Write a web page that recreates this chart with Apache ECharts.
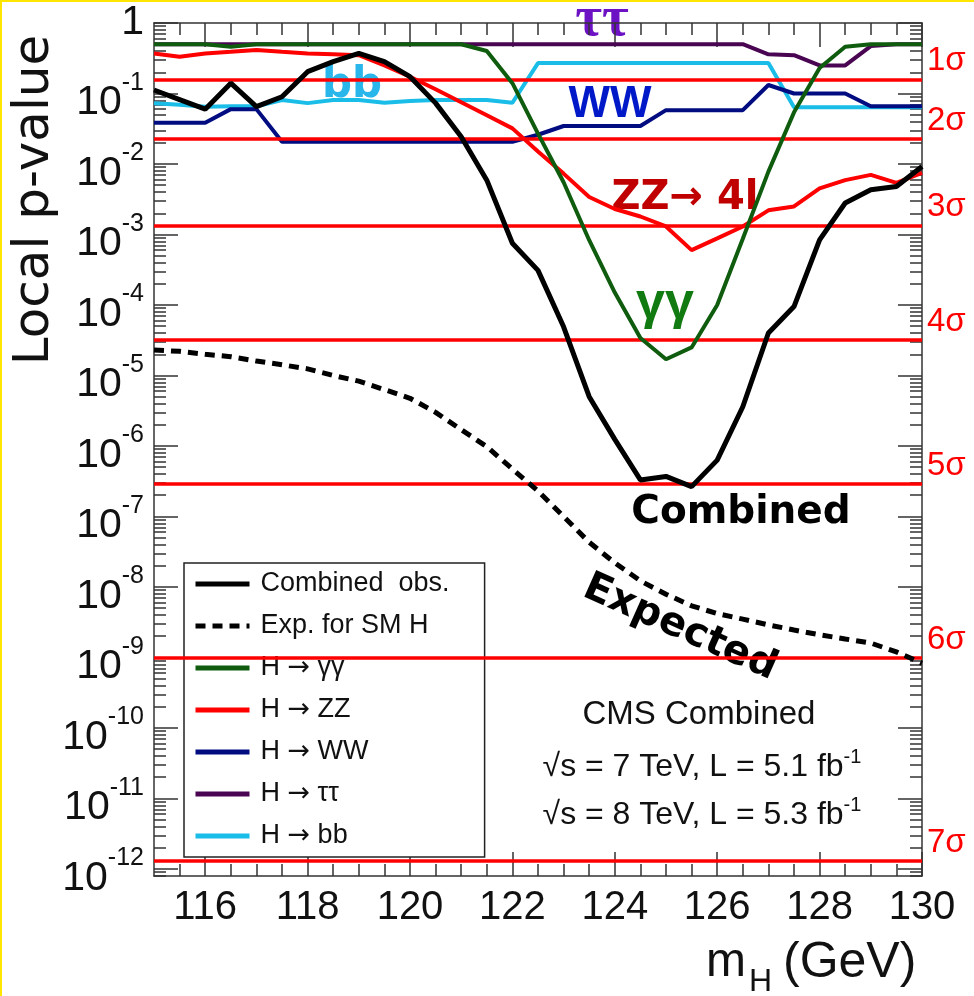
<!DOCTYPE html>
<html>
<head>
<meta charset="utf-8">
<script src="https://cdn.jsdelivr.net/npm/echarts@6/dist/echarts.min.js"></script>
<style>
  html, body { margin: 0; padding: 0; background: #fff; }
  #chart { width: 974px; height: 996px; }
  #edge { position: absolute; left: 0; top: 0; width: 972px; height: 994px;
          border-top: 2px solid #ffe600; border-left: 2px solid #ffe600; pointer-events: none; }
</style>
</head>
<body>
<div id="chart"></div>
<div id="edge"></div>
<script>
// mass points (GeV)
var masses = [115, 115.5, 116, 116.5, 117, 117.5, 118, 118.5, 119, 119.5, 120, 120.5, 121, 121.5, 122, 122.5,
  123, 123.5, 124, 124.5, 125, 125.5, 126, 126.5, 127, 127.5, 128, 128.5, 129, 129.5, 130];

// local p-values
var combinedObs = [0.112, 0.082, 0.060, 0.14, 0.065, 0.090, 0.204, 0.283, 0.372, 0.283, 0.173, 0.073, 0.0244, 0.0059, 7.5e-4, 3.1e-4,
  4.9e-5, 5.0e-6, 1.24e-6, 3.3e-7, 3.7e-7, 2.65e-7, 6.3e-7, 3.6e-6, 4.0e-5, 9.5e-5, 8.4e-4, 2.8e-3, 4.3e-3, 4.8e-3, 9.2e-3];
var expectedSM = [2.3e-5, 2.2e-5, 2.0e-5, 1.85e-5, 1.6e-5, 1.42e-5, 1.24e-5, 1.0e-5, 8.3e-6, 6.3e-6, 4.75e-6, 3.0e-6, 1.7e-6, 9.8e-7, 4.7e-7, 2.3e-7,
  1.0e-7, 4.3e-8, 2.2e-8, 1.22e-8, 7.9e-9, 5.4e-9, 4.2e-9, 3.5e-9, 2.9e-9, 2.45e-9, 2.1e-9, 1.83e-9, 1.6e-9, 1.2e-9, 8.3e-10];
var gammaGamma = [0.5, 0.5, 0.5, 0.46, 0.5, 0.5, 0.5, 0.5, 0.5, 0.5, 0.5, 0.5, 0.5, 0.40, 0.14, 0.027,
  0.0055, 8.3e-4, 1.5e-4, 3.4e-5, 1.7e-5, 2.5e-5, 1.0e-4, 8.7e-4, 7.8e-3, 0.054, 0.23, 0.46, 0.5, 0.5, 0.5];
var zzTo4l = [0.37, 0.333, 0.37, 0.39, 0.414, 0.39, 0.37, 0.36, 0.35, 0.25, 0.173, 0.115, 0.075, 0.049, 0.032, 0.015,
  0.0073, 0.0034, 0.0023, 0.0018, 0.0013, 0.0006, 0.00088, 0.0013, 0.0022, 0.0025, 0.0045, 0.0059, 0.0070, 0.0054, 0.0075];
var wwChan = [0.0385, 0.0385, 0.0385, 0.060, 0.060, 0.0207, 0.0207, 0.0207, 0.0207, 0.0207, 0.0207, 0.0207, 0.0207, 0.0207, 0.0207, 0.026,
  0.0346, 0.0346, 0.0346, 0.0346, 0.058, 0.058, 0.058, 0.058, 0.132, 0.10, 0.10, 0.10, 0.066, 0.066, 0.066];
var tauTau = [0.5, 0.5, 0.5, 0.5, 0.5, 0.5, 0.5, 0.5, 0.5, 0.5, 0.5, 0.5, 0.5, 0.5, 0.5, 0.5,
  0.5, 0.5, 0.5, 0.5, 0.5, 0.5, 0.5, 0.5, 0.36, 0.35, 0.25, 0.25, 0.47, 0.5, 0.5];
var bbChan = [0.073, 0.069, 0.065, 0.066, 0.066, 0.081, 0.073, 0.081, 0.081, 0.074, 0.078, 0.081, 0.081, 0.081, 0.074, 0.27,
  0.27, 0.27, 0.27, 0.27, 0.27, 0.27, 0.27, 0.27, 0.27, 0.064, 0.064, 0.064, 0.064, 0.064, 0.064];

// significance reference lines
var sigmaP = [0.1587, 0.02275, 1.350e-3, 3.167e-5, 2.867e-7, 9.866e-10, 1.280e-12];
var sigmaNames = ['1σ', '2σ', '3σ', '4σ', '5σ', '6σ', '7σ'];

// ticks
var xMajor = [116, 118, 120, 122, 124, 126, 128, 130];
var xMinor = [115.5, 116, 116.5, 117, 117.5, 118, 118.5, 119, 119.5, 120, 120.5, 121, 121.5, 122, 122.5,
  123, 123.5, 124, 124.5, 125, 125.5, 126, 126.5, 127, 127.5, 128, 128.5, 129, 129.5];
var yMajorExp = [-12, -11, -10, -9, -8, -7, -6, -5, -4, -3, -2, -1, 0];
var Y_MIN = -12.1;

var yMinor = [];
yMajorExp.forEach(function (e) {
  for (var k = 2; k <= 9; k++) {
    var v = e - 1 + Math.log10(k);
    if (v >= Y_MIN) yMinor.push(v);
  }
});
var sigmaLog = sigmaP.map(function (p) { return Math.log10(p); });

function toLog(arr) {
  return masses.map(function (m, i) { return [m, Math.log10(arr[i])]; });
}

var SANS = '"Liberation Sans", Arial, sans-serif';
var axisCol = '#333';

function xAx(pos, ticks, len, showLine, showLabel) {
  return {
    type: 'value', min: 115, max: 130, position: pos,
    axisLine: { show: showLine, onZero: false, lineStyle: { color: axisCol, width: 1.5 } },
    axisTick: { show: true, inside: true, length: len, customValues: ticks, lineStyle: { color: axisCol, width: 1.5 } },
    axisLabel: showLabel ? {
      customValues: xMajor, fontSize: 40, fontFamily: SANS, color: '#111', margin: 12
    } : { show: false },
    splitLine: { show: false }
  };
}

function yAx(pos, ticks, len, showLine, showLabel) {
  return {
    type: 'value', min: Y_MIN, max: 0, position: pos,
    axisLine: { show: showLine, onZero: false, lineStyle: { color: axisCol, width: 1.5 } },
    axisTick: { show: true, inside: true, length: len, customValues: ticks, lineStyle: { color: axisCol, width: 1.5 } },
    axisLabel: showLabel ? {
      customValues: yMajorExp, margin: 10,
      formatter: function (v) {
        if (v === 0) return '{one|1}';
        return '{b|10}{s|' + v + '}';
      },
      rich: {
        one: { fontSize: 41, fontFamily: SANS, color: '#111', lineHeight: 44 },
        b: { fontSize: 41, fontFamily: SANS, color: '#111', lineHeight: 60, verticalAlign: 'bottom' },
        s: { fontSize: 25, fontFamily: SANS, color: '#111', lineHeight: 26, verticalAlign: 'top', padding: [7, 0, 0, 0] }
      }
    } : { show: false },
    splitLine: { show: false }
  };
}

// right-hand axis carrying only the sigma labels
var sigmaAxis = {
  type: 'value', min: Y_MIN, max: 0, position: 'right',
  axisLine: { show: false }, axisTick: { show: false }, splitLine: { show: false },
  axisLabel: {
    customValues: sigmaLog, margin: 5, color: '#ff0000', fontSize: 33, fontFamily: SANS,
    verticalAlign: 'bottom', lineHeight: 36,
    formatter: function (v) {
      var best = 0;
      sigmaLog.forEach(function (s, i) { if (Math.abs(s - v) < Math.abs(sigmaLog[best] - v)) best = i; });
      return sigmaNames[best];
    }
  }
};

var chart = echarts.init(document.getElementById('chart'), null, { renderer: 'canvas' });

var lineSeries = function (name, data, color, width, z, dashed) {
  return {
    type: 'line', name: name, data: toLog(data), symbol: 'none', z: z,
    xAxisIndex: 0, yAxisIndex: 0,
    lineStyle: { color: color, width: width, type: dashed ? [10, 7] : 'solid' },
    itemStyle: { color: color },
    emphasis: { disabled: true }
  };
};

chart.setOption({
  animation: false,
  grid: { left: 154, right: 52, top: 23, bottom: 120, outerBoundsMode: 'none' },
  xAxis: [
    xAx('bottom', xMajor, 24, true, true),
    xAx('bottom', xMinor, 12, false, false),
    xAx('top', xMajor, 24, true, false),
    xAx('top', xMinor, 12, false, false)
  ],
  yAxis: [
    yAx('left', yMajorExp, 24, true, true),
    yAx('left', yMinor, 12, false, false),
    yAx('right', yMajorExp, 24, true, false),
    yAx('right', yMinor, 12, false, false),
    sigmaAxis
  ],
  legend: {
    left: 184, top: 563, orient: 'vertical',
    itemWidth: 54, itemHeight: 20, itemGap: 14,
    padding: [7, 35, 7, 9],
    borderColor: '#222', borderWidth: 1.5, backgroundColor: '#fff',
    itemStyle: { color: 'rgba(0,0,0,0)', borderWidth: 0, opacity: 0 },
    lineStyle: { width: 5 },
    formatter: function (name) { return name.replace('→', '{a|→}'); },
    textStyle: {
      fontSize: 27, fontFamily: SANS, color: '#111', lineHeight: 28, padding: [0, 0, 0, 6],
      rich: { a: { fontSize: 27, fontFamily: '"DejaVu Sans"', color: '#111', lineHeight: 28 } }
    },
    data: ['Combined  obs.', 'Exp. for SM H', 'H → γγ', 'H → ZZ', 'H → WW', 'H → ττ', 'H → bb']
  },
  series: [
    {
      type: 'line', name: 'sigma', data: [], z: 1,
      markLine: {
        silent: true, symbol: ['none', 'none'], animation: false,
        lineStyle: { color: '#ff0000', width: 3.5, type: 'solid' },
        label: { show: false },
        data: sigmaLog.map(function (v) { return { yAxis: v }; })
      }
    },
    lineSeries('H → ττ', tauTau, '#4a0552', 4, 2),
    lineSeries('H → bb', bbChan, '#19bde8', 4, 3),
    lineSeries('H → WW', wwChan, '#000c80', 4, 4),
    lineSeries('H → ZZ', zzTo4l, '#ff0000', 4, 5),
    lineSeries('H → γγ', gammaGamma, '#0f5c0f', 4, 6),
    lineSeries('Exp. for SM H', expectedSM, '#000000', 5, 7, true),
    lineSeries('Combined  obs.', combinedObs, '#000000', 5, 8)
  ],
  graphic: [
    { type: 'text', x: 35, y: 200, rotation: Math.PI / 2,
      style: { text: 'Local p-value', font: '50px "DejaVu Sans"', fill: '#111', align: 'center', verticalAlign: 'middle' } },
    { type: 'text', x: 602, y: 20,
      style: { text: 'ττ', font: 'bold 58px "Liberation Serif"', fill: '#6c12c4', align: 'center', verticalAlign: 'middle' } },
    { type: 'text', x: 352, y: 86,
      style: { text: 'bb', font: 'bold 42px "DejaVu Sans"', fill: '#29b6ea', align: 'center', verticalAlign: 'middle' } },
    { type: 'text', x: 610, y: 105,
      style: { text: 'WW', font: 'bold 44px "Liberation Sans"', fill: '#0019c8', align: 'center', verticalAlign: 'middle' } },
    { type: 'text', x: 685, y: 199,
      style: { text: 'ZZ→ 4l', font: 'bold 40px "DejaVu Sans"', fill: '#c00000', align: 'center', verticalAlign: 'middle' } },
    { type: 'text', x: 665, y: 304,
      style: { text: 'γγ', font: 'bold 52px "Liberation Sans"', fill: '#117a11', align: 'center', verticalAlign: 'middle' } },
    { type: 'text', x: 741, y: 513,
      style: { text: 'Combined', font: 'bold 39px "DejaVu Sans"', fill: '#000', align: 'center', verticalAlign: 'middle' } },
    { type: 'text', x: 680, y: 628, rotation: -24 * Math.PI / 180,
      style: { text: 'Expected', font: 'bold 40px "DejaVu Sans"', fill: '#000', align: 'center', verticalAlign: 'middle' } },
    { type: 'text', x: 699, y: 715,
      style: { text: 'CMS Combined', font: '33px "Liberation Sans"', fill: '#111', align: 'center', verticalAlign: 'middle' } },
    { type: 'text', x: 702, y: 765,
      style: { text: '{n|√s = 7 TeV, L = 5.1 fb}{s|-1}', align: 'center', verticalAlign: 'middle',
        rich: { n: { font: '32px "Liberation Sans"', fill: '#111', lineHeight: 36, verticalAlign: 'bottom' },
                s: { font: '20px "Liberation Sans"', fill: '#111', lineHeight: 20, verticalAlign: 'top' } } } },
    { type: 'text', x: 702, y: 813,
      style: { text: '{n|√s = 8 TeV, L = 5.3 fb}{s|-1}', align: 'center', verticalAlign: 'middle',
        rich: { n: { font: '32px "Liberation Sans"', fill: '#111', lineHeight: 36, verticalAlign: 'bottom' },
                s: { font: '20px "Liberation Sans"', fill: '#111', lineHeight: 20, verticalAlign: 'top' } } } },
    { type: 'text', x: 706, y: 963,
      style: { text: 'm', font: '48px "Liberation Sans"', fill: '#111', align: 'left', verticalAlign: 'middle' } },
    { type: 'text', x: 749, y: 982,
      style: { text: 'H', font: '32px "Liberation Sans"', fill: '#111', align: 'left', verticalAlign: 'middle' } },
    { type: 'text', x: 783, y: 963,
      style: { text: '(GeV)', font: '50px "Liberation Sans"', fill: '#111', align: 'left', verticalAlign: 'middle' } }
  ]
});
</script>
</body>
</html>
